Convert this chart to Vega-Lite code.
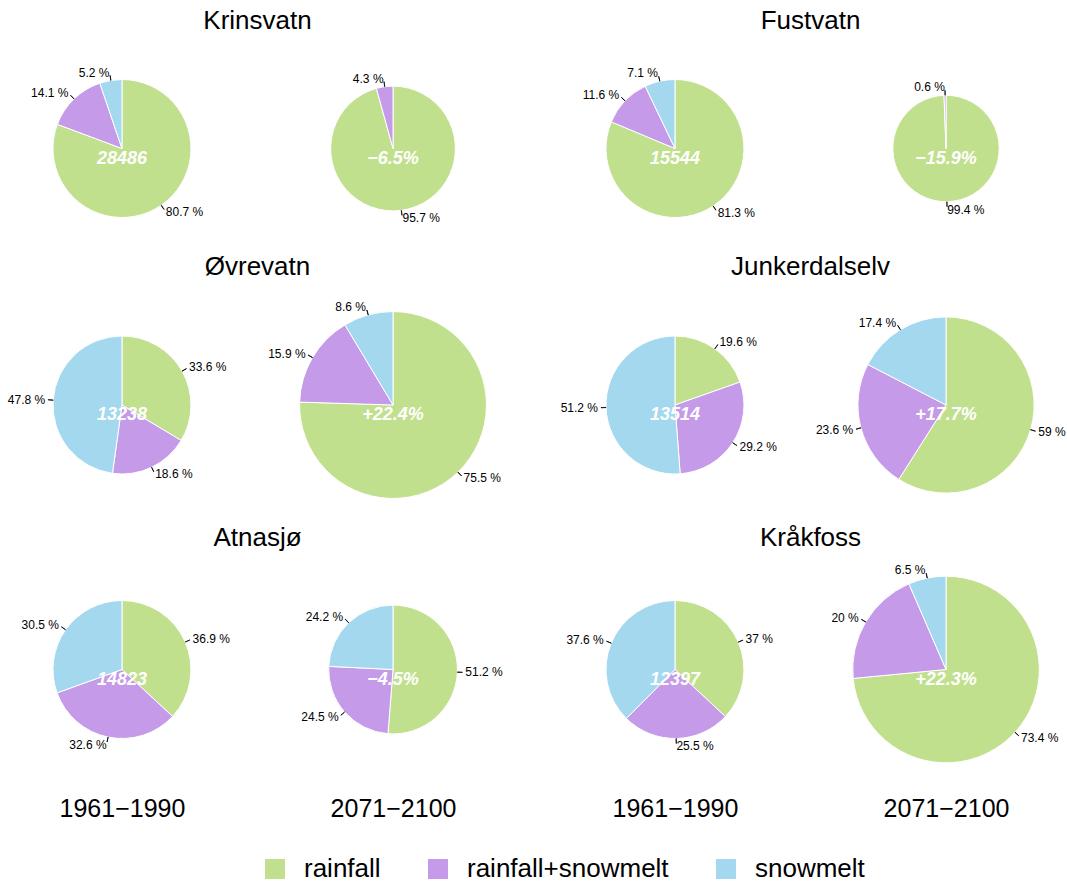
{
  "$schema": "https://vega.github.io/schema/vega-lite/v6.json",
  "background": "white",
  "padding": {"left": 0, "right": 0, "top": 8, "bottom": 0},
  "datasets": {
    "pies": [
      {"station": "Krinsvatn", "period": "1961−1990", "component": "rainfall", "pct": 80.7, "rel": 1, "center": "28486"},
      {"station": "Krinsvatn", "period": "1961−1990", "component": "rainfall+snowmelt", "pct": 14.1, "rel": 1, "center": "28486"},
      {"station": "Krinsvatn", "period": "1961−1990", "component": "snowmelt", "pct": 5.2, "rel": 1, "center": "28486"},
      {"station": "Krinsvatn", "period": "2071−2100", "component": "rainfall", "pct": 95.7, "rel": 0.935, "center": "−6.5%"},
      {"station": "Krinsvatn", "period": "2071−2100", "component": "rainfall+snowmelt", "pct": 4.3, "rel": 0.935, "center": "−6.5%"},
      {"station": "Fustvatn", "period": "1961−1990", "component": "rainfall", "pct": 81.3, "rel": 1, "center": "15544"},
      {"station": "Fustvatn", "period": "1961−1990", "component": "rainfall+snowmelt", "pct": 11.6, "rel": 1, "center": "15544"},
      {"station": "Fustvatn", "period": "1961−1990", "component": "snowmelt", "pct": 7.1, "rel": 1, "center": "15544"},
      {"station": "Fustvatn", "period": "2071−2100", "component": "rainfall", "pct": 99.4, "rel": 0.841, "center": "−15.9%"},
      {"station": "Fustvatn", "period": "2071−2100", "component": "rainfall+snowmelt", "pct": 0.6, "rel": 0.841, "center": "−15.9%"},
      {"station": "Øvrevatn", "period": "1961−1990", "component": "rainfall", "pct": 33.6, "rel": 1, "center": "13238"},
      {"station": "Øvrevatn", "period": "1961−1990", "component": "rainfall+snowmelt", "pct": 18.6, "rel": 1, "center": "13238"},
      {"station": "Øvrevatn", "period": "1961−1990", "component": "snowmelt", "pct": 47.8, "rel": 1, "center": "13238"},
      {"station": "Øvrevatn", "period": "2071−2100", "component": "rainfall", "pct": 75.5, "rel": 1.224, "center": "+22.4%"},
      {"station": "Øvrevatn", "period": "2071−2100", "component": "rainfall+snowmelt", "pct": 15.9, "rel": 1.224, "center": "+22.4%"},
      {"station": "Øvrevatn", "period": "2071−2100", "component": "snowmelt", "pct": 8.6, "rel": 1.224, "center": "+22.4%"},
      {"station": "Junkerdalselv", "period": "1961−1990", "component": "rainfall", "pct": 19.6, "rel": 1, "center": "13514"},
      {"station": "Junkerdalselv", "period": "1961−1990", "component": "rainfall+snowmelt", "pct": 29.2, "rel": 1, "center": "13514"},
      {"station": "Junkerdalselv", "period": "1961−1990", "component": "snowmelt", "pct": 51.2, "rel": 1, "center": "13514"},
      {"station": "Junkerdalselv", "period": "2071−2100", "component": "rainfall", "pct": 59, "rel": 1.177, "center": "+17.7%"},
      {"station": "Junkerdalselv", "period": "2071−2100", "component": "rainfall+snowmelt", "pct": 23.6, "rel": 1.177, "center": "+17.7%"},
      {"station": "Junkerdalselv", "period": "2071−2100", "component": "snowmelt", "pct": 17.4, "rel": 1.177, "center": "+17.7%"},
      {"station": "Atnasjø", "period": "1961−1990", "component": "rainfall", "pct": 36.9, "rel": 1, "center": "14823"},
      {"station": "Atnasjø", "period": "1961−1990", "component": "rainfall+snowmelt", "pct": 32.6, "rel": 1, "center": "14823"},
      {"station": "Atnasjø", "period": "1961−1990", "component": "snowmelt", "pct": 30.5, "rel": 1, "center": "14823"},
      {"station": "Atnasjø", "period": "2071−2100", "component": "rainfall", "pct": 51.2, "rel": 0.955, "center": "−4.5%"},
      {"station": "Atnasjø", "period": "2071−2100", "component": "rainfall+snowmelt", "pct": 24.5, "rel": 0.955, "center": "−4.5%"},
      {"station": "Atnasjø", "period": "2071−2100", "component": "snowmelt", "pct": 24.2, "rel": 0.955, "center": "−4.5%"},
      {"station": "Kråkfoss", "period": "1961−1990", "component": "rainfall", "pct": 37, "rel": 1, "center": "12397"},
      {"station": "Kråkfoss", "period": "1961−1990", "component": "rainfall+snowmelt", "pct": 25.5, "rel": 1, "center": "12397"},
      {"station": "Kråkfoss", "period": "1961−1990", "component": "snowmelt", "pct": 37.6, "rel": 1, "center": "12397"},
      {"station": "Kråkfoss", "period": "2071−2100", "component": "rainfall", "pct": 73.4, "rel": 1.223, "center": "+22.3%"},
      {"station": "Kråkfoss", "period": "2071−2100", "component": "rainfall+snowmelt", "pct": 20, "rel": 1.223, "center": "+22.3%"},
      {"station": "Kråkfoss", "period": "2071−2100", "component": "snowmelt", "pct": 6.5, "rel": 1.223, "center": "+22.3%"}
    ]
  },
  "data": {"name": "pies"},
  "columns": 2,
  "spacing": {"row": 21, "column": 38},
  "bounds": "flush",
  "concat": [
    {
      "width": 515, "height": 231,
      "title": {"text": "Krinsvatn", "offset": -1},
      "transform": [
        {"filter": {"field": "station", "equal": "Krinsvatn"}},
        {"stack": "pct", "groupby": ["period"], "sort": [{"field": "component", "order": "ascending"}], "offset": "normalize", "as": ["t0", "t1"]},
        {"calculate": "(datum.t0 + datum.t1) / 2", "as": "tm"},
        {"calculate": "datum.pct + ' %'", "as": "plabel"}
      ],
      "encoding": {"x": {"field": "period", "type": "nominal", "sort": "ascending", "scale": {"type": "point", "padding": 0.45}, "axis": null}},
      "layer": [
        {"mark": {"type": "arc", "stroke": "white", "strokeWidth": 1},
         "encoding": {
           "theta": {"field": "t0", "type": "quantitative", "scale": {"domain": [0, 1]}},
           "theta2": {"field": "t1"},
           "radius": {"field": "rel", "type": "quantitative", "scale": {"type": "pow", "exponent": 1.5, "domain": [0, 1], "range": [0, 69]}},
           "color": {"field": "component", "type": "nominal", "scale": {"domain": ["rainfall", "rainfall+snowmelt", "snowmelt"], "range": ["#c1e08d", "#c59ae9", "#a3d8ef"]}}
         }},
        {"mark": {"type": "arc", "fill": "black", "stroke": "black", "strokeWidth": 0.7, "radiusOffset": 5, "theta2Offset": 0.003},
         "encoding": {
           "theta": {"field": "tm", "type": "quantitative", "stack": null},
           "theta2": {"field": "tm"},
           "radius": {"field": "rel", "type": "quantitative"},
           "radius2": {"field": "rel"}
         }},
        {"transform": [{"filter": "datum.tm < 0.5"}],
         "mark": {"type": "text", "align": "left", "baseline": "middle", "fontSize": 12, "radiusOffset": 8},
         "encoding": {"theta": {"field": "tm", "type": "quantitative", "stack": null}, "radius": {"field": "rel", "type": "quantitative"}, "text": {"field": "plabel"}}},
        {"transform": [{"filter": "datum.tm >= 0.5"}],
         "mark": {"type": "text", "align": "right", "baseline": "middle", "fontSize": 12, "radiusOffset": 8},
         "encoding": {"theta": {"field": "tm", "type": "quantitative", "stack": null}, "radius": {"field": "rel", "type": "quantitative"}, "text": {"field": "plabel"}}},
        {"transform": [{"filter": "datum.component === 'rainfall'"}],
         "mark": {"type": "text", "color": "white", "fontSize": 18, "fontWeight": "bold", "fontStyle": "italic", "baseline": "middle", "dy": 10},
         "encoding": {"text": {"field": "center"}}}
      ]
    },
    {
      "width": 515, "height": 231,
      "title": {"text": "Fustvatn", "offset": -1},
      "transform": [
        {"filter": {"field": "station", "equal": "Fustvatn"}},
        {"stack": "pct", "groupby": ["period"], "sort": [{"field": "component", "order": "ascending"}], "offset": "normalize", "as": ["t0", "t1"]},
        {"calculate": "(datum.t0 + datum.t1) / 2", "as": "tm"},
        {"calculate": "datum.pct + ' %'", "as": "plabel"}
      ],
      "encoding": {"x": {"field": "period", "type": "nominal", "sort": "ascending", "scale": {"type": "point", "padding": 0.45}, "axis": null}},
      "layer": [
        {"mark": {"type": "arc", "stroke": "white", "strokeWidth": 1},
         "encoding": {
           "theta": {"field": "t0", "type": "quantitative", "scale": {"domain": [0, 1]}},
           "theta2": {"field": "t1"},
           "radius": {"field": "rel", "type": "quantitative", "scale": {"type": "pow", "exponent": 1.5, "domain": [0, 1], "range": [0, 69]}},
           "color": {"field": "component", "type": "nominal", "scale": {"domain": ["rainfall", "rainfall+snowmelt", "snowmelt"], "range": ["#c1e08d", "#c59ae9", "#a3d8ef"]}}
         }},
        {"mark": {"type": "arc", "fill": "black", "stroke": "black", "strokeWidth": 0.7, "radiusOffset": 5, "theta2Offset": 0.003},
         "encoding": {
           "theta": {"field": "tm", "type": "quantitative", "stack": null},
           "theta2": {"field": "tm"},
           "radius": {"field": "rel", "type": "quantitative"},
           "radius2": {"field": "rel"}
         }},
        {"transform": [{"filter": "datum.tm < 0.5"}],
         "mark": {"type": "text", "align": "left", "baseline": "middle", "fontSize": 12, "radiusOffset": 8},
         "encoding": {"theta": {"field": "tm", "type": "quantitative", "stack": null}, "radius": {"field": "rel", "type": "quantitative"}, "text": {"field": "plabel"}}},
        {"transform": [{"filter": "datum.tm >= 0.5"}],
         "mark": {"type": "text", "align": "right", "baseline": "middle", "fontSize": 12, "radiusOffset": 8},
         "encoding": {"theta": {"field": "tm", "type": "quantitative", "stack": null}, "radius": {"field": "rel", "type": "quantitative"}, "text": {"field": "plabel"}}},
        {"transform": [{"filter": "datum.component === 'rainfall'"}],
         "mark": {"type": "text", "color": "white", "fontSize": 18, "fontWeight": "bold", "fontStyle": "italic", "baseline": "middle", "dy": 10},
         "encoding": {"text": {"field": "center"}}}
      ]
    },
    {
      "width": 515, "height": 240,
      "title": {"text": "Øvrevatn", "offset": 5},
      "transform": [
        {"filter": {"field": "station", "equal": "Øvrevatn"}},
        {"stack": "pct", "groupby": ["period"], "sort": [{"field": "component", "order": "ascending"}], "offset": "normalize", "as": ["t0", "t1"]},
        {"calculate": "(datum.t0 + datum.t1) / 2", "as": "tm"},
        {"calculate": "datum.pct + ' %'", "as": "plabel"}
      ],
      "encoding": {"x": {"field": "period", "type": "nominal", "sort": "ascending", "scale": {"type": "point", "padding": 0.45}, "axis": null}},
      "layer": [
        {"mark": {"type": "arc", "stroke": "white", "strokeWidth": 1},
         "encoding": {
           "theta": {"field": "t0", "type": "quantitative", "scale": {"domain": [0, 1]}},
           "theta2": {"field": "t1"},
           "radius": {"field": "rel", "type": "quantitative", "scale": {"type": "pow", "exponent": 1.5, "domain": [0, 1], "range": [0, 69]}},
           "color": {"field": "component", "type": "nominal", "scale": {"domain": ["rainfall", "rainfall+snowmelt", "snowmelt"], "range": ["#c1e08d", "#c59ae9", "#a3d8ef"]}}
         }},
        {"mark": {"type": "arc", "fill": "black", "stroke": "black", "strokeWidth": 0.7, "radiusOffset": 5, "theta2Offset": 0.003},
         "encoding": {
           "theta": {"field": "tm", "type": "quantitative", "stack": null},
           "theta2": {"field": "tm"},
           "radius": {"field": "rel", "type": "quantitative"},
           "radius2": {"field": "rel"}
         }},
        {"transform": [{"filter": "datum.tm < 0.5"}],
         "mark": {"type": "text", "align": "left", "baseline": "middle", "fontSize": 12, "radiusOffset": 8},
         "encoding": {"theta": {"field": "tm", "type": "quantitative", "stack": null}, "radius": {"field": "rel", "type": "quantitative"}, "text": {"field": "plabel"}}},
        {"transform": [{"filter": "datum.tm >= 0.5"}],
         "mark": {"type": "text", "align": "right", "baseline": "middle", "fontSize": 12, "radiusOffset": 8},
         "encoding": {"theta": {"field": "tm", "type": "quantitative", "stack": null}, "radius": {"field": "rel", "type": "quantitative"}, "text": {"field": "plabel"}}},
        {"transform": [{"filter": "datum.component === 'rainfall'"}],
         "mark": {"type": "text", "color": "white", "fontSize": 18, "fontWeight": "bold", "fontStyle": "italic", "baseline": "middle", "dy": 10},
         "encoding": {"text": {"field": "center"}}}
      ]
    },
    {
      "width": 515, "height": 240,
      "title": {"text": "Junkerdalselv", "offset": 5},
      "transform": [
        {"filter": {"field": "station", "equal": "Junkerdalselv"}},
        {"stack": "pct", "groupby": ["period"], "sort": [{"field": "component", "order": "ascending"}], "offset": "normalize", "as": ["t0", "t1"]},
        {"calculate": "(datum.t0 + datum.t1) / 2", "as": "tm"},
        {"calculate": "datum.pct + ' %'", "as": "plabel"}
      ],
      "encoding": {"x": {"field": "period", "type": "nominal", "sort": "ascending", "scale": {"type": "point", "padding": 0.45}, "axis": null}},
      "layer": [
        {"mark": {"type": "arc", "stroke": "white", "strokeWidth": 1},
         "encoding": {
           "theta": {"field": "t0", "type": "quantitative", "scale": {"domain": [0, 1]}},
           "theta2": {"field": "t1"},
           "radius": {"field": "rel", "type": "quantitative", "scale": {"type": "pow", "exponent": 1.5, "domain": [0, 1], "range": [0, 69]}},
           "color": {"field": "component", "type": "nominal", "scale": {"domain": ["rainfall", "rainfall+snowmelt", "snowmelt"], "range": ["#c1e08d", "#c59ae9", "#a3d8ef"]}}
         }},
        {"mark": {"type": "arc", "fill": "black", "stroke": "black", "strokeWidth": 0.7, "radiusOffset": 5, "theta2Offset": 0.003},
         "encoding": {
           "theta": {"field": "tm", "type": "quantitative", "stack": null},
           "theta2": {"field": "tm"},
           "radius": {"field": "rel", "type": "quantitative"},
           "radius2": {"field": "rel"}
         }},
        {"transform": [{"filter": "datum.tm < 0.5"}],
         "mark": {"type": "text", "align": "left", "baseline": "middle", "fontSize": 12, "radiusOffset": 8},
         "encoding": {"theta": {"field": "tm", "type": "quantitative", "stack": null}, "radius": {"field": "rel", "type": "quantitative"}, "text": {"field": "plabel"}}},
        {"transform": [{"filter": "datum.tm >= 0.5"}],
         "mark": {"type": "text", "align": "right", "baseline": "middle", "fontSize": 12, "radiusOffset": 8},
         "encoding": {"theta": {"field": "tm", "type": "quantitative", "stack": null}, "radius": {"field": "rel", "type": "quantitative"}, "text": {"field": "plabel"}}},
        {"transform": [{"filter": "datum.component === 'rainfall'"}],
         "mark": {"type": "text", "color": "white", "fontSize": 18, "fontWeight": "bold", "fontStyle": "italic", "baseline": "middle", "dy": 10},
         "encoding": {"text": {"field": "center"}}}
      ]
    },
    {
      "width": 515, "height": 247,
      "title": {"text": "Atnasjø", "offset": -5},
      "transform": [
        {"filter": {"field": "station", "equal": "Atnasjø"}},
        {"stack": "pct", "groupby": ["period"], "sort": [{"field": "component", "order": "ascending"}], "offset": "normalize", "as": ["t0", "t1"]},
        {"calculate": "(datum.t0 + datum.t1) / 2", "as": "tm"},
        {"calculate": "datum.pct + ' %'", "as": "plabel"}
      ],
      "encoding": {"x": {"field": "period", "type": "nominal", "sort": "ascending", "scale": {"type": "point", "padding": 0.45}, "axis": {"title": null, "domain": false, "ticks": false, "tickSize": 0, "labelAngle": 0, "labelFontSize": 25, "labelPadding": 3, "labelColor": "black", "labelFont": "Liberation Sans", "grid": false}}},
      "layer": [
        {"mark": {"type": "arc", "stroke": "white", "strokeWidth": 1},
         "encoding": {
           "theta": {"field": "t0", "type": "quantitative", "scale": {"domain": [0, 1]}},
           "theta2": {"field": "t1"},
           "radius": {"field": "rel", "type": "quantitative", "scale": {"type": "pow", "exponent": 1.5, "domain": [0, 1], "range": [0, 69]}},
           "color": {"field": "component", "type": "nominal", "scale": {"domain": ["rainfall", "rainfall+snowmelt", "snowmelt"], "range": ["#c1e08d", "#c59ae9", "#a3d8ef"]}}
         }},
        {"mark": {"type": "arc", "fill": "black", "stroke": "black", "strokeWidth": 0.7, "radiusOffset": 5, "theta2Offset": 0.003},
         "encoding": {
           "theta": {"field": "tm", "type": "quantitative", "stack": null},
           "theta2": {"field": "tm"},
           "radius": {"field": "rel", "type": "quantitative"},
           "radius2": {"field": "rel"}
         }},
        {"transform": [{"filter": "datum.tm < 0.5"}],
         "mark": {"type": "text", "align": "left", "baseline": "middle", "fontSize": 12, "radiusOffset": 8},
         "encoding": {"theta": {"field": "tm", "type": "quantitative", "stack": null}, "radius": {"field": "rel", "type": "quantitative"}, "text": {"field": "plabel"}}},
        {"transform": [{"filter": "datum.tm >= 0.5"}],
         "mark": {"type": "text", "align": "right", "baseline": "middle", "fontSize": 12, "radiusOffset": 8},
         "encoding": {"theta": {"field": "tm", "type": "quantitative", "stack": null}, "radius": {"field": "rel", "type": "quantitative"}, "text": {"field": "plabel"}}},
        {"transform": [{"filter": "datum.component === 'rainfall'"}],
         "mark": {"type": "text", "color": "white", "fontSize": 18, "fontWeight": "bold", "fontStyle": "italic", "baseline": "middle", "dy": 10},
         "encoding": {"text": {"field": "center"}}}
      ]
    },
    {
      "width": 515, "height": 247,
      "title": {"text": "Kråkfoss", "offset": -5},
      "transform": [
        {"filter": {"field": "station", "equal": "Kråkfoss"}},
        {"stack": "pct", "groupby": ["period"], "sort": [{"field": "component", "order": "ascending"}], "offset": "normalize", "as": ["t0", "t1"]},
        {"calculate": "(datum.t0 + datum.t1) / 2", "as": "tm"},
        {"calculate": "datum.pct + ' %'", "as": "plabel"}
      ],
      "encoding": {"x": {"field": "period", "type": "nominal", "sort": "ascending", "scale": {"type": "point", "padding": 0.45}, "axis": {"title": null, "domain": false, "ticks": false, "tickSize": 0, "labelAngle": 0, "labelFontSize": 25, "labelPadding": 3, "labelColor": "black", "labelFont": "Liberation Sans", "grid": false}}},
      "layer": [
        {"mark": {"type": "arc", "stroke": "white", "strokeWidth": 1},
         "encoding": {
           "theta": {"field": "t0", "type": "quantitative", "scale": {"domain": [0, 1]}},
           "theta2": {"field": "t1"},
           "radius": {"field": "rel", "type": "quantitative", "scale": {"type": "pow", "exponent": 1.5, "domain": [0, 1], "range": [0, 69]}},
           "color": {"field": "component", "type": "nominal", "scale": {"domain": ["rainfall", "rainfall+snowmelt", "snowmelt"], "range": ["#c1e08d", "#c59ae9", "#a3d8ef"]}}
         }},
        {"mark": {"type": "arc", "fill": "black", "stroke": "black", "strokeWidth": 0.7, "radiusOffset": 5, "theta2Offset": 0.003},
         "encoding": {
           "theta": {"field": "tm", "type": "quantitative", "stack": null},
           "theta2": {"field": "tm"},
           "radius": {"field": "rel", "type": "quantitative"},
           "radius2": {"field": "rel"}
         }},
        {"transform": [{"filter": "datum.tm < 0.5"}],
         "mark": {"type": "text", "align": "left", "baseline": "middle", "fontSize": 12, "radiusOffset": 8},
         "encoding": {"theta": {"field": "tm", "type": "quantitative", "stack": null}, "radius": {"field": "rel", "type": "quantitative"}, "text": {"field": "plabel"}}},
        {"transform": [{"filter": "datum.tm >= 0.5"}],
         "mark": {"type": "text", "align": "right", "baseline": "middle", "fontSize": 12, "radiusOffset": 8},
         "encoding": {"theta": {"field": "tm", "type": "quantitative", "stack": null}, "radius": {"field": "rel", "type": "quantitative"}, "text": {"field": "plabel"}}},
        {"transform": [{"filter": "datum.component === 'rainfall'"}],
         "mark": {"type": "text", "color": "white", "fontSize": 18, "fontWeight": "bold", "fontStyle": "italic", "baseline": "middle", "dy": 10},
         "encoding": {"text": {"field": "center"}}}
      ]
    }
  ],
  "config": {
    "font": "Liberation Sans",
    "view": {"stroke": null},
    "title": {"fontSize": 26, "font": "Liberation Sans", "fontWeight": "normal", "anchor": "middle", "color": "black", "frame": "group"},
    "text": {"font": "Liberation Sans", "color": "black"},
    "legend": {"orient": "none", "legendX": 262, "legendY": 823, "direction": "horizontal", "title": null, "symbolType": "square", "symbolSize": 400, "symbolStrokeWidth": 0, "labelFontSize": 26, "labelFont": "Liberation Sans", "labelColor": "black", "labelOffset": 16, "columnPadding": 44, "labelLimit": 400}
  }
}
